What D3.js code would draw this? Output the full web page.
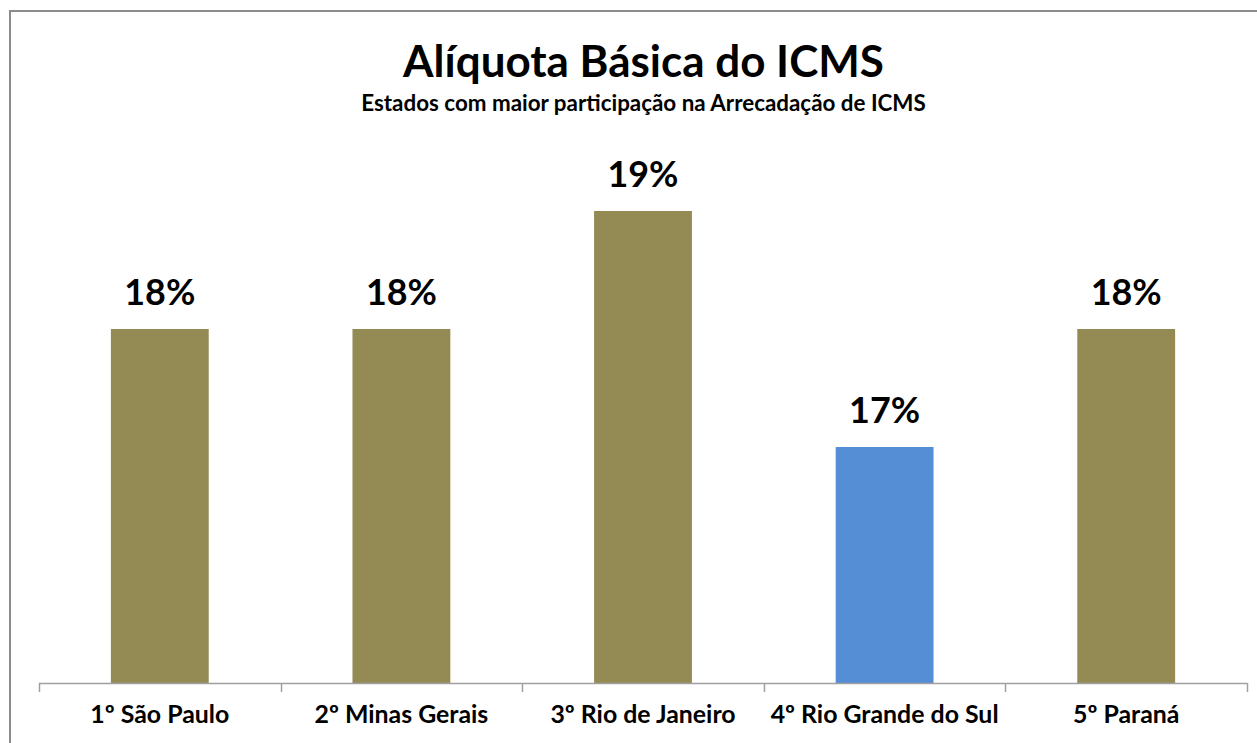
<!DOCTYPE html>
<html><head><meta charset="utf-8">
<script src="https://cdn.jsdelivr.net/npm/d3@7"></script>
<style>html,body{margin:0;padding:0;background:#fff;}svg{display:block;}</style>
</head><body>
<svg id="chart" width="1257" height="743"></svg>
<script>
const categories = ["1º São Paulo", "2º Minas Gerais", "3º Rio de Janeiro", "4º Rio Grande do Sul", "5º Paraná"];
const values = [18, 18, 19, 17, 18];
const barColors = ["#948A54", "#948A54", "#948A54", "#558ED5", "#948A54"];
const title = "Alíquota Básica do ICMS";
const subtitle = "Estados com maior participação na Arrecadação de ICMS";

const svg = d3.select("#chart");
const font = "Lato, 'Open Sans', sans-serif";

// chart frame
svg.append("rect").attr("x", 10).attr("y", 11).attr("width", 1300).attr("height", 800)
  .attr("fill", "#fff").attr("stroke", "#8c8c8c").attr("stroke-width", 2);

const x = d3.scaleBand().domain(categories).range([39, 1247]).paddingInner(0.595).paddingOuter(0.2975);
const y = d3.scaleLinear().domain([15, 20]).range([683, 93]);

function fit(sel, target) {
  const w = sel.node().getComputedTextLength();
  const fs = parseFloat(sel.attr("font-size"));
  sel.attr("font-size", fs * target / w);
}

const t = svg.append("text").attr("x", 643.5).attr("y", 77).attr("text-anchor", "middle")
  .attr("font-family", font).attr("font-weight", 700).attr("font-size", 40).attr("fill", "#000").text(title);
fit(t, 481);
const st = svg.append("text").attr("x", 643.5).attr("y", 111).attr("text-anchor", "middle")
  .attr("font-family", font).attr("font-weight", 700).attr("font-size", 16).attr("fill", "#000").text(subtitle);
fit(st, 565);

svg.selectAll("rect.bar").data(categories).join("rect").attr("class", "bar")
  .attr("x", d => x(d)).attr("width", x.bandwidth())
  .attr("y", (d, i) => y(values[i])).attr("height", (d, i) => y(15) - y(values[i]))
  .attr("fill", (d, i) => barColors[i]);

// value labels
const vl = svg.selectAll("text.val").data(categories).join("text").attr("class", "val")
  .attr("x", d => x(d) + x.bandwidth() / 2).attr("y", (d, i) => y(values[i]) - 24)
  .attr("text-anchor", "middle").attr("font-family", font).attr("font-weight", 700)
  .attr("font-size", 36).attr("fill", "#000").text((d, i) => values[i] + "%");
{
  const w = vl.node().getComputedTextLength();
  vl.attr("font-size", 36 * 71 / w);
}

// x axis
const axisG = svg.append("g");
axisG.append("line").attr("x1", 39).attr("x2", 1247).attr("y1", 683.5).attr("y2", 683.5)
  .attr("stroke", "#a0a0a0").attr("stroke-width", 1.5);
const tickPos = categories.map(d => x(d) - x.step() * x.paddingInner() / 2 - x.bandwidth() * 0).map((v, i) => 39 + i * x.step());
tickPos.push(39 + categories.length * x.step());
axisG.selectAll("line.tick").data(tickPos).join("line").attr("class", "tick")
  .attr("x1", d => Math.round(d) + 0.5).attr("x2", d => Math.round(d) + 0.5).attr("y1", 683).attr("y2", 692)
  .attr("stroke", "#a0a0a0").attr("stroke-width", 1.5);

const cl = svg.selectAll("text.cat").data(categories).join("text").attr("class", "cat")
  .attr("x", d => x(d) + x.bandwidth() / 2).attr("y", 723)
  .attr("text-anchor", "middle").attr("font-family", font).attr("font-weight", 700)
  .attr("font-size", 20).attr("fill", "#000").text(d => d);
{
  const w = cl.filter((d, i) => i === 0).node().getComputedTextLength();
  cl.attr("font-size", 20 * 139 / w);
}
</script>
</body></html>
